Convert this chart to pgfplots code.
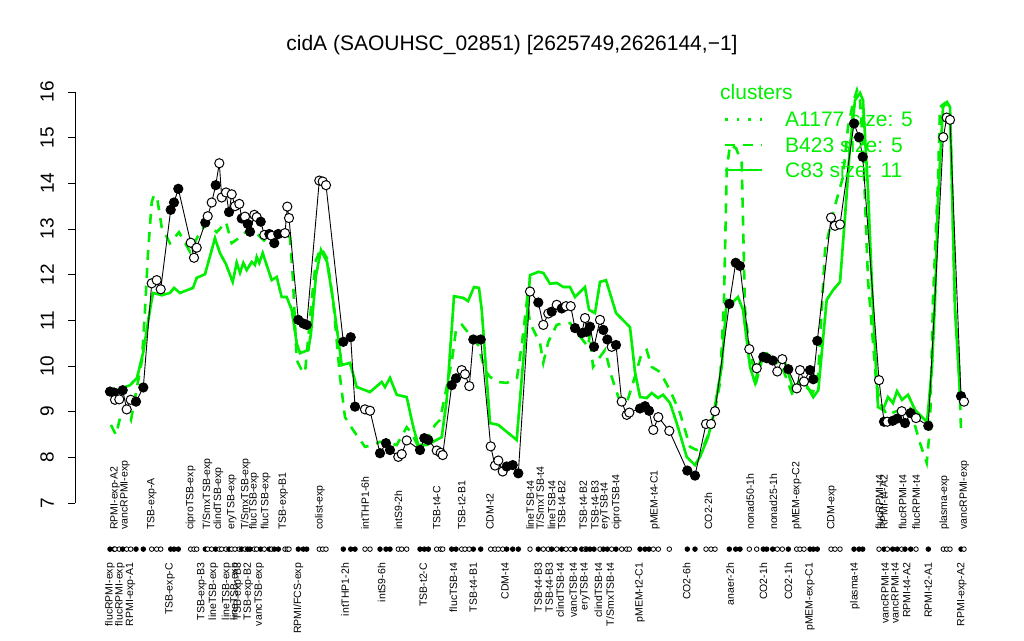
\documentclass[border=0pt]{standalone}
\usepackage{pgfplots}
\usepackage{pgfplotstable}
\pgfplotsset{compat=1.18}
\usepackage{fontspec}
\setmainfont{Liberation Sans}

\definecolor{cl}{RGB}{0,238,0}

\tikzset{
  toplab/.style={rotate=90, anchor=west, inner sep=0pt, font=\fontsize{10.5}{10.5}\selectfont},
  botlab/.style={rotate=90, anchor=east, inner sep=0pt, font=\fontsize{10.5}{10.5}\selectfont},
}
\newcommand{\tl}[2]{\node[toplab] at (axis cs:#1,6.41) {#2};}
\newcommand{\bl}[2]{\node[botlab] at (axis cs:#1,5.69) {#2};}

% samples: x position, expression, filled (1) or open (0)
\pgfplotstableread{
x y f
110 9.44 1
114 9.42 1
115 9.26 0
119.3 9.27 0
122.7 9.47 1
126.7 9.05 0
130.7 9.26 0
136 9.22 1
143.3 9.53 1
151.7 11.81 0
156.7 11.88 0
160.7 11.68 0
170.7 13.42 1
174 13.58 1
178.3 13.88 1
190.7 12.70 0
194 12.37 0
196.7 12.59 0
205.3 13.14 1
207.7 13.28 0
211.7 13.58 0
215.7 13.96 1
219.3 14.44 0
221.7 13.69 0
226 13.80 0
229 13.37 1
231.7 13.76 0
235 13.50 0
239.3 13.55 0
241.7 13.23 1
245 13.27 0
247.7 13.11 1
250 12.94 1
254.3 13.31 0
256.7 13.26 0
260.7 13.16 1
264.3 12.87 0
269.3 12.89 1
271.7 12.85 0
274.3 12.69 1
278.3 12.89 1
285 12.91 0
287.3 13.49 0
289 13.24 0
298.3 11.01 1
303.3 10.93 1
306.7 10.90 1
319.3 14.06 0
322.7 14.04 0
326 13.96 0
343.3 10.53 1
350.7 10.63 1
355 9.11 1
365 9.05 0
370 9.02 0
380 8.09 1
386 8.31 1
390 8.16 1
398.3 8.01 0
401.7 8.07 0
406.7 8.37 0
420 8.16 1
424.3 8.42 1
428.3 8.38 1
436.7 8.15 0
440.7 8.10 0
442.7 8.05 0
451.7 9.58 1
456 9.73 1
461.7 9.91 0
465 9.82 0
469.3 9.56 0
473.3 10.58 1
480.7 10.58 1
490.7 8.24 0
495 7.82 0
498.3 7.93 0
502.7 7.69 0
506.7 7.80 1
512.7 7.83 1
518.3 7.65 1
530 11.63 0
538.3 11.39 1
543.3 10.90 0
548.3 11.15 0
551.7 11.19 1
556.7 11.34 0
561.7 11.26 1
566 11.31 0
570.7 11.31 0
575 10.83 1
581.7 10.72 1
585 11.05 0
586.7 10.75 1
590 10.86 1
594 10.42 1
600 11.01 0
603.3 10.79 1
607.3 10.58 1
611.7 10.42 0
616 10.46 1
621.7 9.22 0
626.7 8.93 0
629.3 8.98 0
640 9.07 1
645 9.12 1
649 9.02 1
653.3 8.60 0
658.3 8.88 0
669.3 8.58 0
687.3 7.71 1
695 7.60 1
706 8.73 0
711 8.73 0
715 9.01 0
729.3 11.36 1
735.7 12.26 1
740 12.19 1
749.3 10.37 0
756.7 9.95 0
763.3 10.20 1
766.7 10.17 1
772.7 10.12 1
777.3 9.88 0
782.3 10.15 0
788.3 9.93 1
796.7 9.51 0
800 9.91 0
804 9.66 0
810 9.91 1
813.3 9.71 1
817.3 10.55 1
831 13.25 0
835 13.07 0
840 13.10 0
854 15.31 1
859 15.01 1
862.7 14.58 1
879 9.69 0
884 8.78 1
887.3 8.78 0
892.7 8.80 1
897.3 8.85 1
901.7 9.01 0
905 8.75 1
910.7 8.97 1
916 8.86 0
928.3 8.69 1
943.3 15.01 0
946.7 15.44 0
950 15.39 0
961 9.34 1
964 9.22 0
}\pts

% cluster C83 (solid)
\pgfplotstableread{
x y
110 9.41
130 9.58
137 9.74
143 10.28
150 11.23
153 11.60
161.7 11.55
170 11.60
174 11.71
180 11.60
193 11.71
196.7 11.93
205 12.01
215 12.80
220 12.47
226 12.23
232.7 11.84
236.7 12.26
240 12.04
243.3 12.26
246.7 12.10
251.7 12.28
255 12.21
256.7 12.39
259.3 12.26
262.7 12.47
266.7 12.21
271.7 11.88
276.7 11.95
281.7 11.51
286.7 11.51
291.7 11.23
296.7 10.50
300 10.28
308.3 10.35
311 10.72
316 11.99
321 12.54
327 12.28
333 11.45
341.7 10.02
350 10.07
356.7 9.54
370 9.43
381.7 9.65
385 9.54
390 9.74
396.7 9.37
406.7 9.32
413.3 8.66
418.3 8.27
426.7 8.27
441.7 8.44
446.7 9.26
454 11.53
463.3 11.49
468 11.42
474 11.73
479 11.71
481.7 11.23
490 8.75
498.3 8.71
506.7 8.56
516.7 8.38
520 9.26
528.3 11.45
530 11.99
538.3 12.06
543.3 12.04
550 11.80
556.7 11.82
563.3 11.73
570 11.73
575 11.51
585 11.73
589 11.23
595 11.16
600 11.84
606 11.88
612 11.45
616 11.16
630 10.85
635 9.87
640 9.32
646.7 9.30
651.7 9.41
658 9.30
663 9.37
670 9.19
676.7 8.75
686.7 8.01
695 7.83
700 8.01
708 8.44
713 8.88
721.7 9.98
726.7 11.45
733 11.40
738 11.51
743 11.23
750 9.98
755 9.63
761.7 10.24
766.7 10.28
776.7 10.07
783.3 10.18
788.3 9.85
793.3 9.47
800 9.69
805 9.63
813.3 9.32
818.3 9.47
826.7 11.45
833 11.66
840 11.84
845 13.26
850 14.80
855 15.82
860 15.98
863 15.82
868 13.85
873 11.23
878 9.10
883 9.04
888 9.32
893 9.19
897 9.45
902 9.26
908 9.37
915 9.04
927 8.77
932 9.98
935 11.45
938 13.64
943 15.67
947 15.78
950 15.67
955 11.23
960 9.41
}\cC

% cluster B423 (dashed)
\pgfplotstableread{
x y
111 8.71
116 8.49
120 8.86
125 9.10
131 8.82
137 9.54
142 10.13
145 11.23
148 12.47
151.7 13.59
154 13.74
157 13.70
161.7 13.04
170 12.69
179 12.93
190 12.50
200 12.93
206.7 13.13
216.7 12.93
226 13.15
231.7 12.69
240 12.82
250 13.02
258 12.87
266.7 12.69
281.7 12.87
290 12.82
293 11.88
296.7 10.13
301.7 9.91
305 9.85
311.7 11.45
316 12.32
321 12.58
327 12.36
333 11.45
340 9.76
345 8.88
353 8.60
365 8.23
373 8.27
380 8.34
390 8.31
396.7 8.27
406.7 8.66
411.7 8.53
418.3 8.23
426.7 8.38
435 8.71
440 8.82
446.7 9.54
452 10.13
456 10.79
462 10.90
470 10.68
478 10.46
485 9.91
490 9.76
498 9.65
507 9.63
517 9.74
522 10.50
527 11.45
530 10.94
540 10.50
543.3 10.07
548.3 10.53
556.7 10.90
563.3 10.94
570 10.94
575 10.79
588 10.42
590 10.72
593 9.98
600 10.20
605 10.35
611.7 9.76
618.3 9.32
626.7 9.19
633 9.63
641.7 10.28
646.7 10.35
651.7 9.98
660 9.87
670 9.47
680 8.97
690 8.23
696.7 8.16
703 8.23
711.7 8.66
720 9.63
724 11.45
726.7 14.29
730 14.84
736 14.77
741.7 14.45
745 11.23
750 10.28
756.7 9.69
763.3 10.24
771.7 10.18
778.3 10.07
783.3 9.91
793.3 9.32
800 9.63
810 9.47
813 9.43
818 9.76
825 12.54
830 13.04
833 13.35
843 14.14
848 15.23
853 15.76
857 16.04
860 15.82
863 14.80
868 11.88
876 9.69
880 9.19
887 8.93
900 9.04
910 9.08
920 8.31
926.7 7.88
930 8.66
933 11.45
938 14.07
940 15.67
945 15.76
950 15.67
955 11.23
959 9.98
961 8.60
}\cB

\begin{document}
\begin{tikzpicture}
\useasboundingbox (0,0) rectangle (1024pt,640pt);
\begin{axis}[
  at={(75pt,137pt)}, anchor=south west,
  scale only axis, width=915pt, height=411pt,
  xmin=75, xmax=990, ymin=7, ymax=16,
  clip=false,
  axis x line=none, axis y line*=left,
  y axis line style={line width=0.8pt},
  ytick={7,8,...,16},
  tick align=outside, major tick length=7pt,
  every tick/.style={black, line width=0.8pt},
  /pgf/number format/assume math mode=true,
  yticklabel style={rotate=90, anchor=south, inner sep=0pt, yshift=14pt,
    font=\fontsize{19}{19}\selectfont},
  colormap={bw}{color=(white) color=(black)},
  point meta min=0, point meta max=1,
]
\addplot[cl, line width=2.4pt, dash pattern=on 2.5pt off 9pt] table[x=x,y=y] {\cC};
\addplot[cl, line width=2.6pt, dash pattern=on 10pt off 8pt] table[x=x,y=y] {\cB};
\addplot[cl, line width=2.6pt] table[x=x,y=y] {\cC};
\addplot[black, line width=0.9pt] table[x=x,y=y] {\pts};
\addplot[scatter, only marks, mark=*, mark size=4.6pt, point meta=\thisrow{f},
  scatter/use mapped color={draw=black, fill=mapped color},
  mark options={line width=1pt}] table[x=x,y=y] {\pts};
% sample strip
\addplot[scatter, only marks, mark=*, mark size=2.3pt, point meta=\thisrow{f},
  scatter/use mapped color={draw=black, fill=mapped color},
  mark options={line width=0.8pt}] table[x=x,y expr=5.99] {\pts};

% title
\node[font=\fontsize{21}{21}\selectfont] at (axis cs:512,17.03) {cidA (SAOUHSC\_02851) [2625749,2626144,−1]};

% legend
\node[anchor=west, inner sep=0pt, text=cl, font=\fontsize{21}{21}\selectfont] at (axis cs:720,16.0) {clusters};
\draw[cl, line width=2.4pt, dash pattern=on 2.5pt off 9pt] (axis cs:725,15.40) -- (axis cs:762,15.40);
\draw[cl, line width=2.6pt, dash pattern=on 10pt off 8pt] (axis cs:725,14.84) -- (axis cs:762,14.84);
\draw[cl, line width=2.6pt] (axis cs:725,14.29) -- (axis cs:762,14.29);
\node[anchor=west, inner sep=0pt, text=cl, font=\fontsize{21}{21}\selectfont] at (axis cs:785,15.40) {A1177 size: 5};
\node[anchor=west, inner sep=0pt, text=cl, font=\fontsize{21}{21}\selectfont] at (axis cs:785,14.84) {B423 size: 5};
\node[anchor=west, inner sep=0pt, text=cl, font=\fontsize{21}{21}\selectfont] at (axis cs:785,14.29) {C83 size: 11};

% sample labels, upper row
\tl{115}{RPMI-exp-A2}
\tl{125}{vancRPMI-exp}
\tl{151.7}{TSB-exp-A}
\tl{190.7}{ciproTSB-exp}
\tl{207.3}{T/SmxTSB-exp}
\tl{218.3}{clindTSB-exp}
\tl{231.7}{eryTSB-exp}
\tl{245.7}{T/SmxTSB-exp}
\tl{254}{flucTSB-exp}
\tl{265.7}{flucTSB-exp}
\tl{283.3}{TSB-exp-B1}
\tl{320}{colist-exp}
\tl{365}{intTHP1-6h}
\tl{398.3}{intS9-2h}
\tl{436.7}{TSB-t4-C}
\tl{461.7}{TSB-t2-B1}
\tl{490}{CDM-t2}
\tl{530}{lineTSB-t4}
\tl{540}{T/SmxTSB-t4}
\tl{551.7}{lineTSB-t4}
\tl{561.7}{TSB-t4-B2}
\tl{583.3}{TSB-t4-B2}
\tl{595}{TSB-t4-B3}
\tl{605}{eryTSB-t4}
\tl{616.7}{ciproTSB-t4}
\tl{655}{pMEM-t4-C1}
\tl{708.3}{CO2-2h}
\tl{750}{nonad50-1h}
\tl{773.3}{nonad25-1h}
\tl{796.7}{pMEM-exp-C2}
\tl{831.7}{CDM-exp}
\tl{879.3}{flucRPMI-t4}
\tl{884}{RPMI-t4-A2}
\tl{902.7}{flucRPMI-t4}
\tl{916}{flucRPMI-t4}
\tl{944.3}{plasma-exp}
\tl{964.3}{vancRPMI-exp}
% sample labels, lower row
\bl{110}{flucRPMI-exp}
\bl{120}{flucRPMI-exp}
\bl{130.7}{RPMI-exp-A1}
\bl{170}{TSB-exp-C}
\bl{201.7}{TSB-exp-B3}
\bl{213.3}{lineTSB-exp}
\bl{226.7}{lineTSB-exp}
\bl{235}{lineTSB-exp}
\bl{238.3}{TSB-exp-B3}
\bl{248.3}{TSB-exp-B2}
\bl{259.3}{vancTSB-exp}
\bl{298.3}{RPMI/FCS-exp}
\bl{345}{intTHP1-2h}
\bl{381.7}{intS9-6h}
\bl{423.3}{TSB-t2-C}
\bl{453.3}{flucTSB-t4}
\bl{473.3}{TSB-t4-B1}
\bl{505}{CDM-t4}
\bl{538.3}{TSB-t4-B3}
\bl{549.3}{TSB-t4-B3}
\bl{560}{clindTSB-t4}
\bl{573.3}{vancTSB-t4}
\bl{585}{eryTSB-t4}
\bl{598.3}{clindTSB-t4}
\bl{610}{T/SmxTSB-t4}
\bl{640}{pMEM-t2-C1}
\bl{686.7}{CO2-6h}
\bl{730}{anaer-2h}
\bl{763.3}{CO2-1h}
\bl{788.3}{CO2-1h}
\bl{810}{pMEM-exp-C1}
\bl{855}{plasma-t4}
\bl{885}{vancRPMI-t4}
\bl{895}{vancRPMI-t4}
\bl{906.7}{RPMI-t4-A2}
\bl{928.3}{RPMI-t2-A1}
\bl{961.7}{RPMI-exp-A2}
\end{axis}
\end{tikzpicture}
\end{document}
